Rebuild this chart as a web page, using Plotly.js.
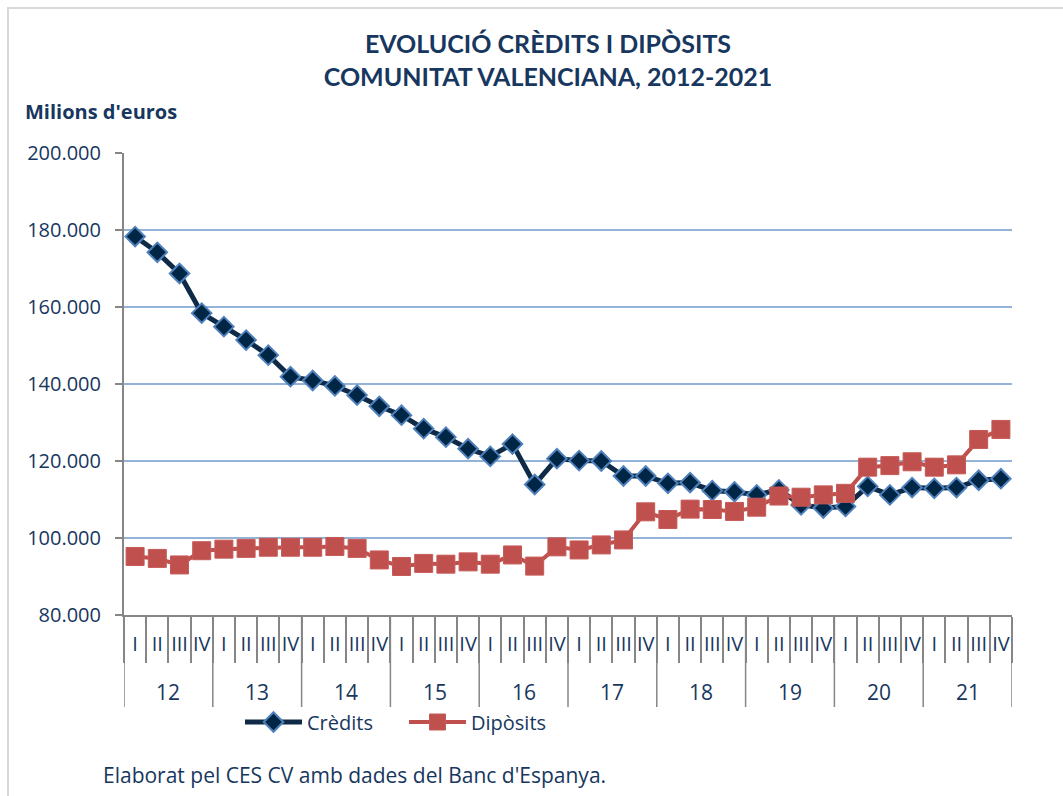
<!DOCTYPE html>
<html>
<head>
<meta charset="utf-8">
<script src="https://cdn.plot.ly/plotly-3.0.1.min.js"></script>
<style>
  html, body { margin: 0; padding: 0; background: #ffffff; }
  #frame { position: absolute; left: 7px; top: 7px; width: 1200px; height: 900px;
           border-left: 2px solid #d9d9d9; border-top: 2px solid #d9d9d9; pointer-events: none; }
  #chart { position: absolute; left: 0; top: 0; width: 1063px; height: 796px; }
</style>
</head>
<body>
<div id="chart"></div>
<div id="frame"></div>
<script>
// ---- data (millions of euros) ----
const years = ['12','13','14','15','16','17','18','19','20','21'];
const quarters = ['I','II','III','IV'];
const credits = [178300,174200,168700,158400,154900,151400,147500,141900,140900,139500,
                 137100,134200,131900,128400,126200,123200,121200,124400,113900,120600,
                 120100,120000,116100,116100,114200,114400,112300,112000,111200,112500,
                 108600,107800,108200,113400,111200,113100,112900,113100,115000,115400];
const deposits = [95200,94700,93000,96700,97100,97300,97600,97600,97600,97800,
                  97300,94300,92600,93400,93200,93800,93200,95600,92700,97700,
                  96900,98200,99500,106800,104800,107500,107400,106900,108000,110900,
                  110600,111200,111600,118400,118800,119800,118400,119000,125600,128200];

// category keys and quarter tick labels built from the arrays
const cats = [], qtext = [];
years.forEach(y => quarters.forEach(q => { cats.push(y + ' ' + q); qtext.push(q); }));

const txt = '#17375E';
const plotH = 462, plotW = 888;

const traces = [
  { x: cats, y: credits, name: 'Crèdits', type: 'scatter', mode: 'lines+markers',
    line: { color: '#0E2A47', width: 5 },
    marker: { symbol: 'diamond', size: 15, color: '#002646', line: { color: '#4F81BD', width: 2 } } },
  { x: cats, y: deposits, name: 'Dipòsits', type: 'scatter', mode: 'lines+markers',
    line: { color: '#C0504D', width: 4 },
    marker: { symbol: 'square', size: 18, color: '#C0504D', line: { color: '#C65A57', width: 1 } } }
];

// year dividers and labels
const shapes = [];
for (let k = 0; k <= years.length; k++) {
  shapes.push({ type: 'line', xref: 'x', yref: 'paper', x0: 4 * k - 0.5, x1: 4 * k - 0.5,
                y0: 0, y1: -92 / plotH, line: { color: '#868686', width: 1.5 } });
}
const annotations = years.map((y, k) => ({
  text: y, xref: 'x', yref: 'paper', x: 4 * k + 1.5, y: -77 / plotH,
  xanchor: 'center', yanchor: 'middle', showarrow: false,
  font: { family: 'Open Sans', size: 21, color: txt }
}));
annotations.push({
  text: "<b>Milions d'euros</b>", xref: 'paper', yref: 'paper',
  x: (23 - 124) / plotW, y: (615 - 111) / plotH, xanchor: 'left', yanchor: 'middle',
  showarrow: false, font: { family: 'Open Sans', size: 20, color: txt }
});
annotations.push({
  text: "Elaborat pel CES CV amb dades del Banc d'Espanya.", xref: 'paper', yref: 'paper',
  x: (101 - 124) / plotW, y: (615 - 775) / plotH, xanchor: 'left', yanchor: 'middle',
  showarrow: false, font: { family: 'Open Sans', size: 21, color: txt }
});

const layout = {
  width: 1063, height: 796,
  margin: { l: 124, r: 51, t: 153, b: 181 },
  paper_bgcolor: 'rgba(0,0,0,0)', plot_bgcolor: '#ffffff',
  separators: ',.',
  showlegend: true,
  title: { text: '<b>EVOLUCIÓ CRÈDITS I DIPÒSITS<br>COMUNITAT VALENCIANA, 2012-2021</b>',
           xref: 'container', yref: 'container', x: 548 / 1063, y: 1 - 53 / 796,
           xanchor: 'center', yanchor: 'middle',
           font: { family: 'Lato', size: 25, color: txt } },
  xaxis: {
    type: 'category', categoryorder: 'array', categoryarray: cats,
    range: [-0.5, cats.length - 0.5],
    tickvals: cats, ticktext: qtext, tickson: 'boundaries',
    ticks: 'outside', ticklen: 46, tickwidth: 1.5, tickcolor: '#868686',
    ticklabelstandoff: 10,
    showline: true, linecolor: '#868686', linewidth: 2,
    showgrid: false, zeroline: false, tickangle: 0,
    tickfont: { family: 'Open Sans', size: 20, color: txt }
  },
  yaxis: {
    range: [80000, 200000], dtick: 20000, tickformat: ',d',
    ticks: 'outside', ticklen: 7, tickwidth: 1.5, tickcolor: '#868686',
    showline: true, linecolor: '#868686', linewidth: 2,
    gridcolor: '#95B3D7', gridwidth: 1.5, zeroline: false,
    ticklabelstandoff: 10,
    tickfont: { family: 'Open Sans', size: 20, color: txt }
  },
  legend: { orientation: 'h', x: (240 - 124) / plotW, xanchor: 'left', y: -107 / plotH, yanchor: 'middle',
            itemwidth: 57, entrywidth: 92, entrywidthmode: 'pixels',
            font: { family: 'Open Sans', size: 20, color: txt }, bgcolor: 'rgba(0,0,0,0)' },
  shapes: shapes,
  annotations: annotations
};

Plotly.newPlot('chart', traces, layout, { displayModeBar: false, responsive: false });
</script>
</body>
</html>
